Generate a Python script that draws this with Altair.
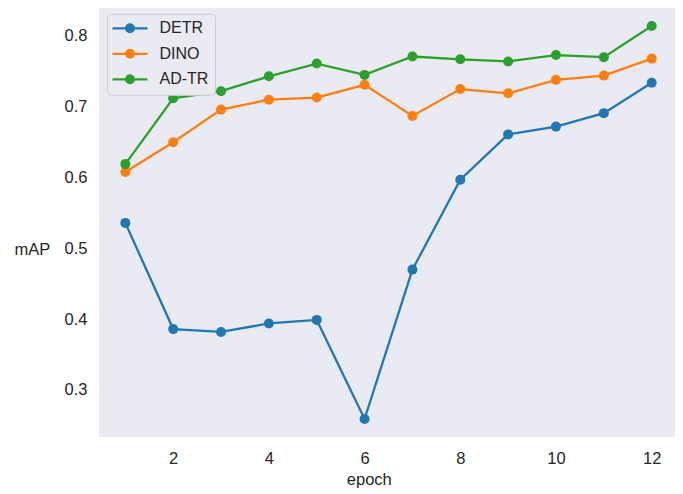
import altair as alt
import pandas as pd

# ---- data ----
epochs = list(range(1, 13))
detr = [0.536, 0.386, 0.382, 0.394, 0.399, 0.259, 0.470, 0.597, 0.661, 0.672, 0.691, 0.734]
dino = [0.608, 0.650, 0.696, 0.710, 0.713, 0.731, 0.687, 0.725, 0.719, 0.738, 0.744, 0.768]
adtr = [0.619, 0.712, 0.722, 0.743, 0.761, 0.745, 0.771, 0.767, 0.764, 0.773, 0.770, 0.814]
series = ["DETR", "DINO", "AD-TR"]
colors = ["#1f77b4", "#ff7f0e", "#2ca02c"]
x_ticks = [2, 4, 6, 8, 10, 12]
y_ticks = [0.3, 0.4, 0.5, 0.6, 0.7, 0.8]

rows = []
for name, vals in zip(series, [detr, dino, adtr]):
    for e, v in zip(epochs, vals):
        rows.append({"epoch": e, "mAP": v, "model": name})
df = pd.DataFrame(rows)

FONT = "Liberation Sans"
TXT = "#262626"


def ring(r):
    return f"M{r},0A{r},{r} 0 1,1 {-r},0A{r},{r} 0 1,1 {r},0"


# legend glyph: a line with a (filled-looking) dot in the middle
legend_symbol = "M-3.5,0H3.5" + ring(0.78) + ring(0.4) + ring(0.08)

chart = (
    alt.Chart(df)
    .mark_line(
        strokeWidth=2.3,
        point=alt.OverlayMarkDef(filled=True, size=100, opacity=1),
    )
    .encode(
        x=alt.X(
            "epoch:Q",
            scale=alt.Scale(domain=[0.45, 12.487], nice=False, zero=False),
            axis=alt.Axis(
                values=x_ticks,
                grid=False,
                ticks=False,
                tickSize=0,
                domain=False,
                labelFont=FONT,
                labelFontSize=16.5,
                labelColor=TXT,
                labelPadding=13.5,
                title="epoch",
                titleFont=FONT,
                titleFontSize=16.5,
                titleFontWeight="normal",
                titleColor=TXT,
                titleX=269.8,
                titleY=47,
                titleAlign="center",
                titleBaseline="alphabetic",
            ),
        ),
        y=alt.Y(
            "mAP:Q",
            scale=alt.Scale(domain=[0.2336, 0.8395], nice=False, zero=False),
            axis=alt.Axis(
                values=y_ticks,
                format=".1f",
                grid=False,
                ticks=False,
                tickSize=0,
                domain=False,
                labelFont=FONT,
                labelFontSize=16.5,
                labelColor=TXT,
                labelPadding=12,
                title="mAP",
                titleFont=FONT,
                titleFontSize=16.5,
                titleFontWeight="normal",
                titleColor=TXT,
                titleAngle=0,
                titleX=-85,
                titleY=246,
                titleAlign="left",
                titleBaseline="alphabetic",
            ),
        ),
        color=alt.Color(
            "model:N",
            scale=alt.Scale(domain=series, range=colors),
            legend=alt.Legend(
                title=None,
                orient="none",
                legendX=8,
                legendY=5.8,
                direction="vertical",
                symbolType=legend_symbol,
                symbolSize=100,
                symbolStrokeWidth=2.3,
                symbolFillColor="transparent",
                symbolOffset=8.5,
                labelOffset=21.5,
                labelFont=FONT,
                labelFontSize=16,
                labelColor=TXT,
                labelLimit=200,
                rowPadding=7.5,
                padding=6.5,
                fillColor="#EAEAF2",
                strokeColor="#CCCCCC",
                cornerRadius=4,
            ),
        ),
    )
    .properties(
        width=576,
        height=429,
        autosize=alt.AutoSizeParams(type="none"),
        padding={"left": 91, "top": 0, "right": 0, "bottom": 56},
        background="white",
    )
    .configure_view(fill="#EAEAF2", strokeWidth=0)
)

chart.save("out.html", embed_options={"renderer": "svg", "actions": False})
